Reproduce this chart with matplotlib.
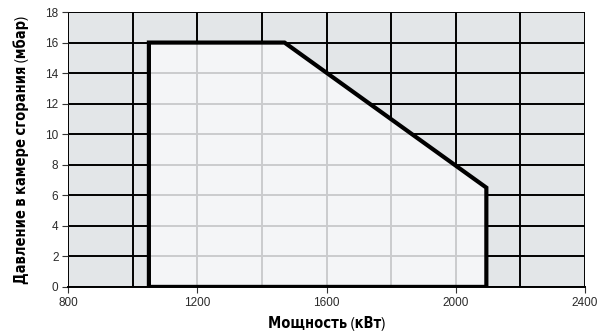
import matplotlib
matplotlib.use("Agg")
import matplotlib.pyplot as plt
from matplotlib.patches import Polygon
from matplotlib import font_manager

# Data: operating envelope (power kW, pressure mbar)
power_kw = [1050, 1050, 1470, 2095, 2095]
pressure_mbar = [0, 16, 16, 6.5, 0]
x_major_ticks = [800, 1200, 1600, 2000, 2400]
x_minor_ticks = [1000, 1400, 1800, 2200]
y_ticks = [0, 2, 4, 6, 8, 10, 12, 14, 16, 18]

xlabel = "Мощность (кВт)"
ylabel = "Давление в камере сгорания (мбар)"

names = sorted({f.name for f in font_manager.fontManager.ttflist})
cond = [n for n in names if "Condensed" in n or "Narrow" in n]

fig = plt.figure(figsize=(5.98, 3.34), dpi=100)
ax = fig.add_axes([0.114, 0.141, 0.864, 0.823])
ax.set_facecolor("#e3e6e8")
ax.set_xlim(800, 2400)
ax.set_ylim(0, 18)

ax.set_xticks(x_major_ticks)
ax.set_xticks(x_minor_ticks, minor=True)
ax.set_yticks(y_ticks)
ax.grid(True, which="both", color="black", linewidth=1.4, zorder=1)
ax.set_axisbelow(True)

for s in ax.spines.values():
    s.set_color("black")
    s.set_linewidth(1.4)
ax.spines["left"].set_visible(False)
ax.spines["top"].set_visible(False)
ax.spines["right"].set_visible(False)

ax.tick_params(axis="x", which="major", length=4, width=0.8, color="#333333",
               labelsize=8.5, labelcolor="#2a2a2a", pad=3)
ax.tick_params(axis="x", which="minor", length=0)
ax.tick_params(axis="y", length=4, width=0.8, color="#333333",
               labelsize=8.5, labelcolor="#2a2a2a", pad=3)
for lab in ax.get_xticklabels() + ax.get_yticklabels():
    lab.set_family("Liberation Sans")

poly = Polygon(list(zip(power_kw, pressure_mbar)), closed=True,
               facecolor="#f8f9fb", alpha=0.82, edgecolor="none", zorder=2)
ax.add_patch(poly)
edge = Polygon(list(zip(power_kw, pressure_mbar)), closed=True,
               facecolor="none", edgecolor="black", linewidth=3.0,
               joinstyle="miter", zorder=3)
ax.add_patch(edge)

lab_font = cond[:1] + ["DejaVu Sans"] if cond else ["DejaVu Sans"]
ax.set_xlabel(xlabel, fontsize=10.5, fontweight="bold", family=lab_font,
              fontstretch="condensed", labelpad=5)
ax.set_ylabel(ylabel, fontsize=10.5, fontweight="bold", family=lab_font,
              fontstretch="condensed", labelpad=12)

fig.savefig("out.png", dpi=100)
